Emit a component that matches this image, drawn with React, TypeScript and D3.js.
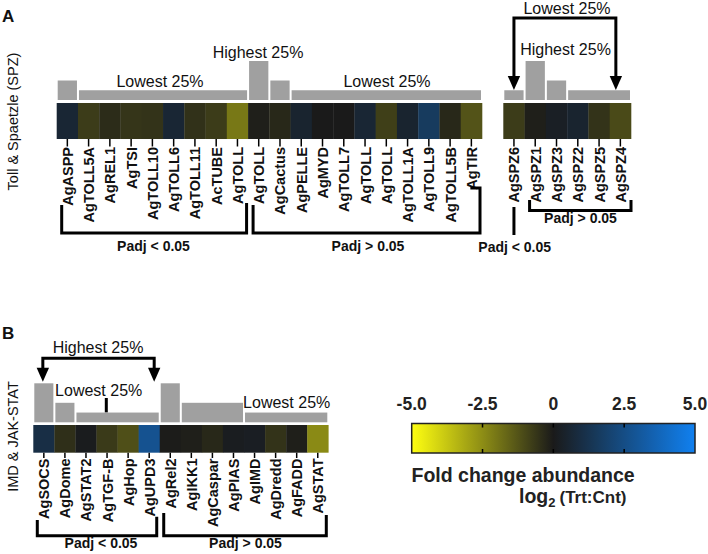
import React from "react";
import * as d3 from "d3";

// ---------- data ----------
const tollGenes = ["AgASPP","AgTOLL5A","AgREL1","AgTSI","AgTOLL10","AgTOLL6","AgTOLL11","AcTUBE","AgTOLL","AgTOLL","AgCactus","AgPELLE","AgMYD","AgTOLL7","AgTOLL","AgTOLL","AgTOLL1A","AgTOLL9","AgTOLL5B","AgTIR"];
const tollValues = [0.6,-0.75,-0.4,-0.6,-0.55,0.6,-0.5,-0.75,-2.05,-0.1,-0.3,0.5,0,0,0.6,-0.8,0.5,1.6,-0.3,-1.25];
const tollQuartile = [2,1,1,1,1,1,1,1,1,4,2,1,1,1,1,1,1,1,1,1];

const spzGenes = ["AgSPZ6","AgSPZ1","AgSPZ3","AgSPZ2","AgSPZ5","AgSPZ4"];
const spzValues = [-0.75,-0.1,0.25,0.5,-0.55,-1.05];
const spzQuartile = [1,4,2,1,1,1];

const jakGenes = ["AgSOCS","AgDome","AgSTAT2","AgTGF-B","AgHop","AgUPD3","AgRel2","AgIKK1","AgCaspar","AgPIAS","AgIMD","AgDredd","AgFADD","AgSTAT"];
const jakValues = [1.0,-0.45,0.1,-0.7,-1.15,2.75,-0.05,-0.1,-0.3,0.15,0.2,-0.55,-0.1,-2.45];
const jakQuartile = [4,2,1,1,1,1,4,2,2,2,1,1,1,1];

const colorTicks = [-5, -2.5, 0, 2.5, 5];
const colorTickLabels = ["-5.0", "-2.5", "0", "2.5", "5.0"];

// ---------- scales ----------
const FONT = "'Liberation Sans', Arial, sans-serif";
const color = d3.scaleLinear<string>().domain([-5, 0, 5]).range(["#ffff10", "#1a1a1a", "#1080f0"]).interpolate(d3.interpolateRgb);
const barH = d3.scaleLinear().domain([0, 4]).range([0, 39]);
const cbX = d3.scaleLinear().domain([-5, 5]).range([411.7, 695]);

const tollX = d3.scaleBand<number>().domain(d3.range(tollGenes.length)).range([56.7, 482]);
const spzX = d3.scaleBand<number>().domain(d3.range(spzGenes.length)).range([503.3, 631]);
const jakX = d3.scaleBand<number>().domain(d3.range(jakGenes.length)).range([33.3, 328.3]);

const BAR_FILL = "#a0a0a0";

function runs(q: number[]) {
  const out: { s: number; e: number; v: number }[] = [];
  q.forEach((v, i) => {
    const last = out[out.length - 1];
    if (last && last.v === v) last.e = i;
    else out.push({ s: i, e: i, v });
  });
  return out;
}

function Block({ genes, values, quart, x, barBase, cellTop, cellBottom, labelTop }: any) {
  const bw = x.bandwidth();
  return (
    <g>
      {runs(quart).map((r, i) => (
        <rect key={"b" + i} x={x(r.s) + 1} width={x(r.e) + bw - x(r.s) - 2}
          y={barBase - barH(r.v)} height={barH(r.v)} fill={BAR_FILL} />
      ))}
      {values.map((v: number, i: number) => (
        <rect key={"c" + i} x={x(i)} y={cellTop} width={bw + 0.3} height={cellBottom - cellTop} fill={color(v)} />
      ))}
      {genes.map((g: string, i: number) => {
        const cx = x(i) + bw / 2;
        return (
          <g key={"l" + i}>
            <line x1={cx} x2={cx} y1={cellBottom} y2={labelTop} stroke="#000" strokeWidth={1.5} />
            <text transform={`translate(${cx + 0.5},${labelTop + 0.5}) rotate(-90)`} textAnchor="end"
              dominantBaseline="central" fontFamily={FONT} fontWeight="bold" fontSize={14.5} fill="#111">{g}</text>
          </g>
        );
      })}
    </g>
  );
}

function Arrowhead({ x, tip }: { x: number; tip: number }) {
  return <polygon points={`${x - 6.2},${tip - 14} ${x + 6.2},${tip - 14} ${x},${tip}`} fill="#000" />;
}

export default function App() {
  const tb = tollX.bandwidth();
  const sb = spzX.bandwidth();
  const jb = jakX.bandwidth();
  const spz6 = spzX(0)! + sb / 2;
  const spz4 = spzX(5)! + sb / 2 - 4.5;
  const socs = jakX(0)! + jb / 2 - 1;
  const upd3 = jakX(5)! + jb / 2 + 5;
  const lbl = { fontFamily: FONT, fontSize: 16, fill: "#111" } as any;
  const padj = { fontFamily: FONT, fontSize: 14, fontWeight: "bold", fill: "#111", textAnchor: "middle" } as any;
  const stroke = { stroke: "#000", strokeWidth: 3, fill: "none" } as any;
  return (
    <svg width={708} height={554} style={{ position: "absolute", left: 0, top: 0, background: "#fff" }}>
      <defs>
        <linearGradient id="cb" x1="0" x2="1" y1="0" y2="0">
          {d3.range(0, 1.0001, 0.05).map((t) => (
            <stop key={t} offset={t} stopColor={color(-5 + 10 * t)} />
          ))}
        </linearGradient>
      </defs>

      {/* Panel A */}
      <text x={2} y={22} fontFamily={FONT} fontWeight="bold" fontSize={17} fill="#111">A</text>
      <text transform="translate(13,121.5) rotate(-90)" textAnchor="middle" dominantBaseline="central" {...lbl} fontSize={14.5}>Toll &amp; Spaetzle (SPZ)</text>

      <text x={258} y={58} textAnchor="middle" {...lbl}>Highest 25%</text>
      <text x={160} y={86.5} textAnchor="middle" {...lbl}>Lowest 25%</text>
      <text x={387} y={86.5} textAnchor="middle" {...lbl}>Lowest 25%</text>

      <Block genes={tollGenes} values={tollValues} quart={tollQuartile} x={tollX}
        barBase={100} cellTop={103} cellBottom={139} labelTop={146.5} />
      <Block genes={spzGenes} values={spzValues} quart={spzQuartile} x={spzX}
        barBase={100} cellTop={103} cellBottom={139} labelTop={146.5} />

      <text x={567} y={13.5} textAnchor="middle" {...lbl}>Lowest 25%</text>
      <text x={565.5} y={55} textAnchor="middle" {...lbl}>Highest 25%</text>
      <polyline points={`${spz6},77 ${spz6},18 ${spz4},18 ${spz4},77`} {...stroke} strokeLinejoin="miter" />
      <Arrowhead x={spz6} tip={90} />
      <Arrowhead x={spz4} tip={90} />

      {/* A brackets */}
      <polyline points={`${tollX(0)! + 5},205 ${tollX(0)! + 5},233 ${tollX(8)! + tb - 1.5},233 ${tollX(8)! + tb - 1.5},203`} {...stroke} />
      <text x={153.5} y={250.5} {...padj}>Padj &lt; 0.05</text>
      <polyline points={`${tollX(9)! + 5},205 ${tollX(9)! + 5},233 ${tollX(19)! + tb - 2},233 ${tollX(19)! + tb - 2},188 ${tollX(19)! + tb / 2 - 1},188`} {...stroke} />
      <text x={368} y={250.5} {...padj}>Padj &gt; 0.05</text>
      <line x1={spz6} x2={spz6} y1={207} y2={235} stroke="#000" strokeWidth={3} />
      <text x={514.7} y={251.5} {...padj}>Padj &lt; 0.05</text>
      <polyline points={`${spzX(1)! + 5},200 ${spzX(1)! + 5},210.5 ${spzX(5)! + sb},210.5 ${spzX(5)! + sb},200`} {...stroke} />
      <text x={580.5} y={223.3} {...padj}>Padj &gt; 0.05</text>

      {/* Panel B */}
      <text x={2} y={338.5} fontFamily={FONT} fontWeight="bold" fontSize={17} fill="#111">B</text>
      <text transform="translate(13,436.5) rotate(-90)" textAnchor="middle" dominantBaseline="central" {...lbl} fontSize={14.5}>IMD &amp; JAK-STAT</text>

      <text x={98} y={353} textAnchor="middle" {...lbl}>Highest 25%</text>
      <polyline points={`${socs},368 ${socs},358.3 ${upd3},358.3 ${upd3},368`} {...stroke} />
      <Arrowhead x={socs} tip={381.7} />
      <Arrowhead x={upd3} tip={381.7} />
      <text x={98.7} y={395.5} textAnchor="middle" {...lbl}>Lowest 25%</text>
      <line x1={106.3} x2={106.3} y1={398} y2={412.5} stroke="#000" strokeWidth={3} />
      <text x={286.7} y={408.3} textAnchor="middle" {...lbl}>Lowest 25%</text>

      <Block genes={jakGenes} values={jakValues} quart={jakQuartile} x={jakX}
        barBase={422.3} cellTop={425} cellBottom={452.7} labelTop={458} />

      <polyline points={`${jakX(0)! + 4},520 ${jakX(0)! + 4},535.7 ${jakX(5)! + jb - 3},535.7 ${jakX(5)! + jb - 3},516.7`} {...stroke} />
      <text x={101} y={548.3} {...padj}>Padj &lt; 0.05</text>
      <polyline points={`${jakX(6)! + 4},513 ${jakX(6)! + 4},535.7 ${jakX(13)! + jb - 2},535.7 ${jakX(13)! + jb - 2},515`} {...stroke} />
      <text x={245.5} y={548.3} {...padj}>Padj &gt; 0.05</text>

      {/* Colour bar */}
      <rect x={cbX(-5)} y={423.5} width={cbX(5) - cbX(-5)} height={29.5} fill="url(#cb)" stroke="#222" strokeWidth={1.5} />
      {colorTicks.map((t, i) => (
        <g key={"ct" + i}>
          {i > 0 && i < colorTicks.length - 1 && (
            <>
              <line x1={cbX(t)} x2={cbX(t)} y1={423.5} y2={427.5} stroke="#000" strokeWidth={1.5} />
              <line x1={cbX(t)} x2={cbX(t)} y1={449} y2={453} stroke="#000" strokeWidth={1.5} />
            </>
          )}
          <text x={cbX(t)} y={410} textAnchor="middle" fontFamily={FONT} fontWeight="bold" fontSize={17.5} fill="#222">{colorTickLabels[i]}</text>
        </g>
      ))}
      <text x={411.5} y={481.5} fontFamily={FONT} fontWeight="bold" fontSize={19.5} fill="#222">Fold change abundance</text>
      <text x={519} y={502.5} fontFamily={FONT} fontWeight="bold" fill="#222">
        <tspan fontSize={19.5}>log</tspan>
        <tspan fontSize={13} dy={4}>2</tspan>
        <tspan fontSize={17} dy={-4} dx={4}>(Trt:Cnt)</tspan>
      </text>
    </svg>
  );
}
